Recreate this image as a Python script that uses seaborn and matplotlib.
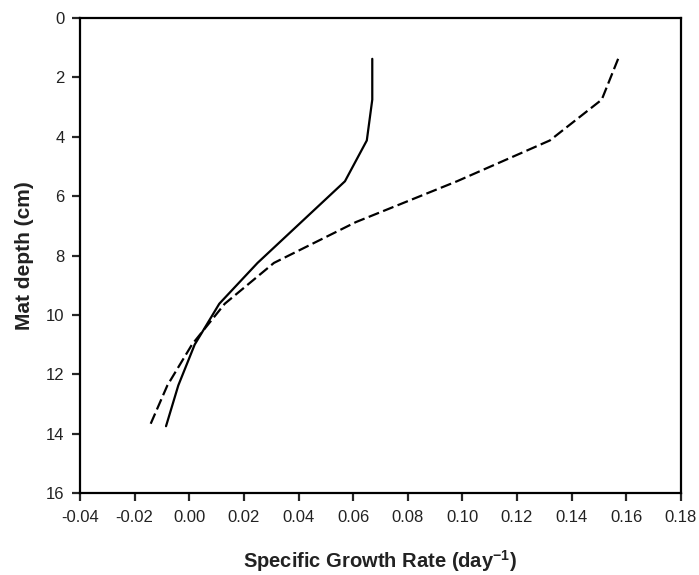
import matplotlib
matplotlib.use("Agg")
import matplotlib.pyplot as plt
import numpy as np
import pandas as pd
import seaborn as sns

# Mat depth (cm) of each sample layer
depth = [1.375, 2.75, 4.125, 5.5, 6.875, 8.25, 9.625, 11.0, 12.375, 13.75]
# Specific growth rate (day^-1), solid curve
rate_solid = [0.067, 0.067, 0.065, 0.057, 0.041, 0.025, 0.011, 0.002, -0.004, -0.0085]
# Specific growth rate (day^-1), dashed curve
rate_dashed = [0.157, 0.151, 0.132, 0.098, 0.061, 0.031, 0.013, 0.001, -0.008, -0.0145]

x_ticks = [-0.04, -0.02, 0.00, 0.02, 0.04, 0.06, 0.08, 0.10, 0.12, 0.14, 0.16, 0.18]
y_ticks = [0, 2, 4, 6, 8, 10, 12, 14, 16]

sns.set_style("ticks")
plt.rcParams["font.family"] = ["Liberation Sans", "DejaVu Sans"]
plt.rcParams["mathtext.fontset"] = "custom"
plt.rcParams["mathtext.rm"] = "Liberation Sans"
plt.rcParams["mathtext.bf"] = "Liberation Sans:bold"

df = pd.DataFrame({"depth": depth, "solid": rate_solid, "dashed": rate_dashed})

fig = plt.figure(figsize=(6.99, 5.75), dpi=100)
ax = fig.add_axes([0.1144, 0.1426, 0.8598, 0.8261])

sns.lineplot(data=df, x="solid", y="depth", sort=False, estimator=None,
             color="black", linewidth=1.6, ax=ax)
sns.lineplot(data=df, x="dashed", y="depth", sort=False, estimator=None,
             color="black", linewidth=1.6, ax=ax)
ax.lines[1].set_dashes((5, 2))

ax.set_xlim(-0.04, 0.18)
ax.set_ylim(16, 0)
ax.set_xticks(x_ticks)
ax.set_xticklabels([f"{t:.2f}" for t in x_ticks])
ax.set_yticks(y_ticks)

for side in ["top", "bottom", "left", "right"]:
    ax.spines[side].set_visible(True)
    ax.spines[side].set_linewidth(1.6)
    ax.spines[side].set_color("black")
ax.tick_params(axis="both", direction="out", length=6, width=1.6,
               labelsize=12, labelcolor="#222222")
ax.tick_params(axis="x", pad=6)
ax.tick_params(axis="y", pad=5)

ax.set_xlabel(r"Specific Growth Rate (day$^{\mathbf{-1}}$)", fontsize=14.5,
              fontweight="bold", color="#222222", labelpad=17)
ax.set_ylabel("Mat depth (cm)", fontsize=15, fontweight="bold",
              color="#222222", labelpad=9)

plt.savefig("out.png", dpi=100)
plt.close()
